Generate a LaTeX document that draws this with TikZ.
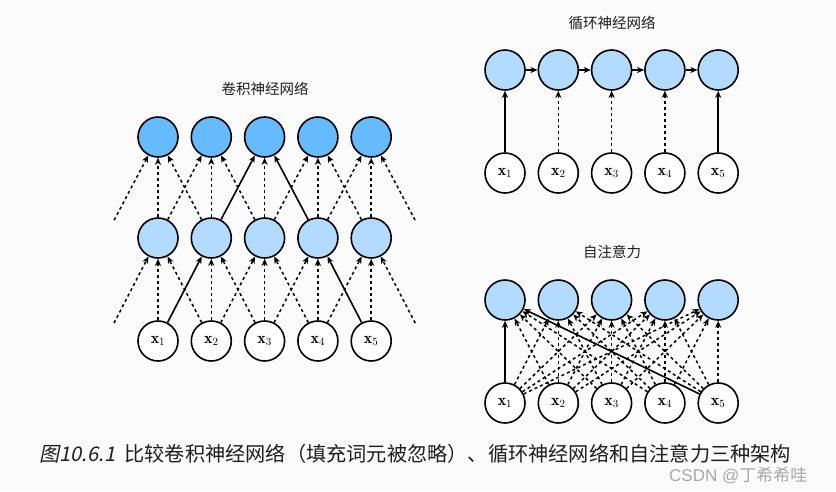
\documentclass[tikz,border=0pt]{standalone}
\usepackage{fontspec}
\usetikzlibrary{arrows.meta}
\newfontfamily\cjk{Noto Sans CJK SC}
\newfontfamily\cjkit[FakeSlant=0.2]{Noto Sans CJK SC}
\newfontfamily\wmfont{Liberation Sans}
\definecolor{darkblue}{HTML}{66BBFF}
\definecolor{lightblue}{HTML}{B3DAFF}
\definecolor{bgc}{HTML}{FBFBFB}
\definecolor{txt}{HTML}{1E1E1E}
\definecolor{wmc}{HTML}{A8A8A8}
\tikzset{
  neuron/.style={circle,draw=black,line width=1.6pt,minimum size=40pt,inner sep=0pt,font=\fontsize{16}{16}\selectfont},
  dk/.style={neuron,fill=darkblue},
  lt/.style={neuron,fill=lightblue},
  inp/.style={neuron,fill=white},
  ghost/.style={circle,minimum size=40pt,inner sep=0pt},
  tip/.style={-{Stealth[length=7pt,width=6pt,inset=2pt]}},
  dsh/.style={tip,line width=1.5pt,dash pattern=on 3pt off 3pt},
  sld/.style={tip,line width=1.6pt},
  ttl/.style={font=\cjk\fontsize{14.5}{14.5}\selectfont,text=txt},
}
\begin{document}
\begin{tikzpicture}[x=1pt,y=-1pt]
\fill[bgc] (0,0) rectangle (836,491);
\useasboundingbox (0,0) rectangle (836,491);

% ---------- CNN ----------
\node[ttl] (tcnn) at (265,89) {卷积神经网络};
\foreach \i in {1,...,5}{
  \pgfmathsetmacro\xx{158+53.3*(\i-1)}
  \node[dk] (ct\i) at (\xx,137) {};
  \node[lt] (cm\i) at (\xx,238) {};
  \node[inp] (cx\i) at (\xx,341) {$\mathbf{x}_{\i}$};
}
\node[ghost] (cx0) at (104.7,341) {};
\node[ghost] (cx6) at (424.5,341) {};
\node[ghost] (cm0) at (104.7,238) {};
\node[ghost] (cm6) at (424.5,238) {};
\foreach \i in {1,...,5}{
  \foreach \d in {-1,0,1}{
    \pgfmathtruncatemacro\j{\i+\d}
    \pgfmathtruncatemacro\skipa{((\i==2)&&(\j==1))||((\i==4)&&(\j==5))}
    \pgfmathtruncatemacro\skipb{(\i==3)&&((\j==2)||(\j==4))}
    \ifnum\skipa=0 \draw[dsh] (cx\j) -- (cm\i);\fi
    \ifnum\skipb=0 \draw[dsh] (cm\j) -- (ct\i);\fi
  }
}
\draw[sld] (cx1) -- (cm2);
\draw[sld] (cx5) -- (cm4);
\draw[sld] (cm2) -- (ct3);
\draw[sld] (cm4) -- (ct3);

% ---------- RNN ----------
\node[ttl] (trnn) at (612,23) {循环神经网络};
\foreach \i in {1,...,5}{
  \pgfmathsetmacro\xx{505+53.3*(\i-1)}
  \node[lt] (rh\i) at (\xx,70) {};
  \node[inp] (rx\i) at (\xx,173) {$\mathbf{x}_{\i}$};
}
\foreach \i/\k in {1/2,2/3,3/4,4/5}{
  \draw[sld] (rh\i) -- (rh\k);
}
\draw[sld] (rx1) -- (rh1);
\draw[dsh] (rx2) -- (rh2);
\draw[dsh] (rx3) -- (rh3);
\draw[dsh] (rx4) -- (rh4);
\draw[sld] (rx5) -- (rh5);

% ---------- Self-attention ----------
\node[ttl] (tsa) at (612,252) {自注意力};
\foreach \i in {1,...,5}{
  \pgfmathsetmacro\xx{505+53.3*(\i-1)}
  \node[lt] (sh\i) at (\xx,300) {};
  \node[inp] (sx\i) at (\xx,403) {$\mathbf{x}_{\i}$};
}
\foreach \i in {1,...,5}{
  \foreach \j in {1,...,5}{
    \pgfmathtruncatemacro\skip{(\i==1)&&((\j==1)||(\j==5))}
    \ifnum\skip=0 \draw[dsh] (sx\j) -- (sh\i);\fi
  }
}
\draw[sld] (sx1) -- (sh1);
\draw[sld] (sx5) -- (sh1);

% ---------- caption ----------
\node[anchor=west,text=txt,font=\cjk\fontsize{20.2}{20.2}\selectfont,inner sep=0pt] (cap) at (39,454)
  {{\cjkit 图10.6.1}\hspace{9pt}比较卷积神经网络（填充词元被忽略）、循环神经网络和自注意力三种架构};
\node[anchor=west,text=wmc,inner sep=0pt,font=\fontsize{17}{17}\selectfont] (wm) at (669,476)
  {{\wmfont CSDN @}{\cjk 丁希希哇}};
\end{tikzpicture}
\end{document}
